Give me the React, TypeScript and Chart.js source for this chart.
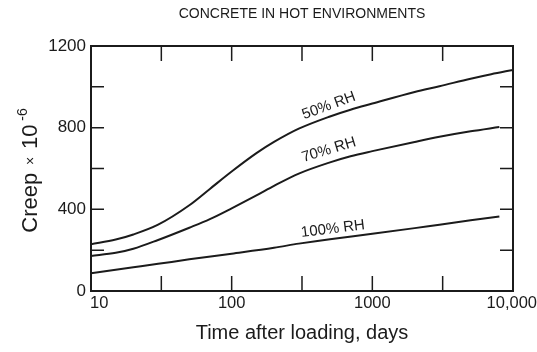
import React, { useEffect, useRef } from "react";
import { Chart, registerables } from "chart.js";

Chart.register(...registerables);

// ---- Data ----
const days50 = [10, 15, 20, 30, 50, 70, 100, 150, 200, 300, 500, 700, 1000, 2000, 3000, 5000, 7000, 10000];
const creep50 = [229, 252, 277, 325, 420, 500, 585, 675, 730, 795, 855, 888, 918, 975, 1003, 1040, 1062, 1083];

const days70 = [10, 15, 20, 30, 50, 70, 100, 150, 200, 300, 500, 700, 1000, 2000, 3000, 5000, 8000];
const creep70 = [172, 187, 207, 250, 310, 352, 405, 468, 515, 575, 630, 660, 685, 730, 755, 782, 803];

const days100 = [10, 20, 30, 50, 100, 200, 300, 500, 1000, 2000, 3000, 5000, 8000];
const creep100 = [87, 116, 133, 155, 183, 212, 232, 254, 280, 308, 325, 346, 365];

const curveLabels = ["50% RH", "70% RH", "100% RH"];
const curveLabelDays = [491, 491, 525];
const curveLabelCreep = [907, 691, 304];
const curveLabelAngles = [-20, -17, -7];

const xTickValues = [10, 100, 1000, 10000];
const xTickLabels = ["10", "100", "1000", "10,000"];
const xMarkValues = [31.62, 100, 316.2, 1000, 3162];
const yTickValues = [0, 400, 800, 1200];
const yTickLabels = ["0", "400", "800", "1200"];
const yMarkValues = [200, 400, 600, 800, 1000];

const chartTitle = "CONCRETE IN HOT ENVIRONMENTS";
const xTitle = "Time after loading, days";

const INK = "#1b1b1b";
const FONT = "'Liberation Sans', Arial, Helvetica, sans-serif";

const toPoints = (xs: number[], ys: number[]) => xs.map((x, i) => ({ x, y: ys[i] }));

const decorPlugin = {
  id: "decor",
  afterDraw(chart: any) {
    const { ctx, chartArea: a, scales } = chart;
    const xs = scales.x;
    const ys = scales.y;
    ctx.save();
    ctx.strokeStyle = INK;
    ctx.fillStyle = INK;

    // frame
    ctx.lineWidth = 2;
    ctx.strokeRect(a.left, a.top, a.right - a.left, a.bottom - a.top);

    // inward tick marks
    ctx.lineWidth = 1.5;
    ctx.beginPath();
    for (const v of xMarkValues) {
      const px = xs.getPixelForValue(v);
      ctx.moveTo(px, a.bottom);
      ctx.lineTo(px, a.bottom - 15);
      ctx.moveTo(px, a.top);
      ctx.lineTo(px, a.top + 15);
    }
    for (const v of yMarkValues) {
      const py = ys.getPixelForValue(v);
      ctx.moveTo(a.left, py);
      ctx.lineTo(a.left + 13, py);
      ctx.moveTo(a.right, py);
      ctx.lineTo(a.right - 13, py);
    }
    ctx.stroke();

    // y tick labels
    ctx.font = `17px ${FONT}`;
    ctx.textAlign = "right";
    ctx.textBaseline = "middle";
    yTickValues.forEach((v, i) => {
      ctx.fillText(yTickLabels[i], a.left - 5, ys.getPixelForValue(v));
    });

    // x tick labels
    ctx.font = `16.5px ${FONT}`;
    ctx.textBaseline = "middle";
    xTickValues.forEach((v, i) => {
      const px = xs.getPixelForValue(v);
      if (i === 0) {
        ctx.textAlign = "left";
        ctx.fillText(xTickLabels[i], px - 1, a.bottom + 12);
      } else if (i === xTickValues.length - 1) {
        ctx.textAlign = "right";
        ctx.fillText(xTickLabels[i], px + 24, a.bottom + 12);
      } else {
        ctx.textAlign = "center";
        ctx.fillText(xTickLabels[i], px, a.bottom + 12);
      }
    });

    const cx = (a.left + a.right) / 2;

    // chart title
    ctx.font = `14px ${FONT}`;
    ctx.textAlign = "center";
    ctx.textBaseline = "middle";
    ctx.fillText(chartTitle, cx, 14);

    // x axis title
    ctx.font = `20px ${FONT}`;
    ctx.fillText(xTitle, cx, a.bottom + 42);

    // y axis title (rotated, with superscript)
    const pieces = [
      { t: "Creep", s: 22, dy: 0 },
      { t: "  \u00d7  ", s: 14, dy: -2 },
      { t: "10", s: 22, dy: 0 },
      { t: " -6", s: 14, dy: -10 },
    ];
    let total = 0;
    const widths: number[] = [];
    for (const p of pieces) {
      ctx.font = `${p.s}px ${FONT}`;
      const w = ctx.measureText(p.t).width;
      widths.push(w);
      total += w;
    }
    ctx.save();
    ctx.translate(29, (a.top + a.bottom) / 2 + 2);
    ctx.rotate(-Math.PI / 2);
    ctx.textAlign = "left";
    ctx.textBaseline = "alphabetic";
    let u = -total / 2;
    pieces.forEach((p, i) => {
      ctx.font = `${p.s}px ${FONT}`;
      ctx.fillText(p.t, u, 8 + p.dy);
      u += widths[i];
    });
    ctx.restore();

    // curve labels
    ctx.font = `15px ${FONT}`;
    ctx.textAlign = "center";
    ctx.textBaseline = "middle";
    curveLabels.forEach((lab, i) => {
      const px = xs.getPixelForValue(curveLabelDays[i]);
      const py = ys.getPixelForValue(curveLabelCreep[i]);
      ctx.save();
      ctx.translate(px, py);
      ctx.rotate((curveLabelAngles[i] * Math.PI) / 180);
      ctx.fillText(lab, 0, 0);
      ctx.restore();
    });

    ctx.restore();
  },
};

export default function App() {
  const ref = useRef<HTMLCanvasElement | null>(null);

  useEffect(() => {
    if (!ref.current) return;
    const lineStyle = {
      borderColor: INK,
      borderWidth: 2,
      pointRadius: 0,
      fill: false,
      cubicInterpolationMode: "monotone" as const,
      tension: 0.4,
    };
    const chart = new Chart(ref.current, {
      type: "line",
      data: {
        datasets: [
          { label: curveLabels[0], data: toPoints(days50, creep50), ...lineStyle },
          { label: curveLabels[1], data: toPoints(days70, creep70), ...lineStyle },
          { label: curveLabels[2], data: toPoints(days100, creep100), ...lineStyle },
        ],
      },
      options: {
        animation: false,
        responsive: false,
        devicePixelRatio: 1,
        layout: { padding: { left: 91, right: 24, top: 46, bottom: 61 } },
        plugins: {
          legend: { display: false },
          tooltip: { enabled: false },
          title: { display: false },
        },
        scales: {
          x: { type: "logarithmic", min: 10, max: 10000, display: false },
          y: { type: "linear", min: 0, max: 1200, display: false },
        },
      },
      plugins: [decorPlugin],
    });
    return () => chart.destroy();
  }, []);

  return (
    <div
      style={{
        position: "absolute",
        left: 0,
        top: 0,
        width: 537,
        height: 352,
        overflow: "hidden",
        background: "#ffffff",
      }}
    >
      <canvas ref={ref} width={537} height={352} style={{ display: "block" }} />
    </div>
  );
}
